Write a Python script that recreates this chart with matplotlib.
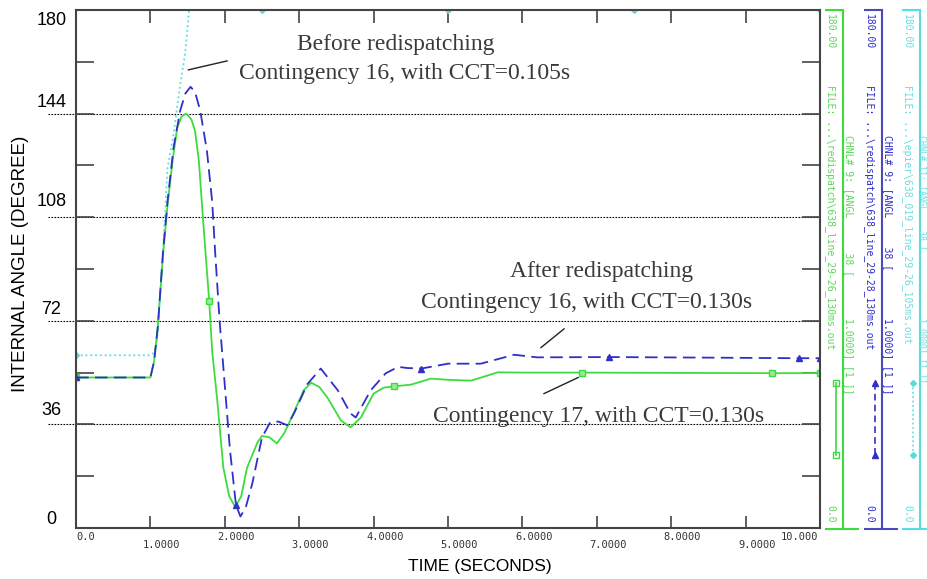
import numpy as np
import matplotlib.pyplot as plt
from matplotlib.lines import Line2D

# ---- data (time in s, angle in degrees) ----
t_green = [0, 0.5, 1.0, 1.05, 1.1, 1.17, 1.23, 1.30, 1.36, 1.42, 1.48, 1.55, 1.60, 1.65,
           1.70, 1.74, 1.79, 1.83, 1.90, 1.98, 2.06, 2.14, 2.22, 2.30, 2.44, 2.5, 2.6,
           2.7, 2.8, 2.88, 3.06, 3.16, 3.27, 3.38, 3.56, 3.69, 3.83, 4.0, 4.14, 4.27,
           4.5, 4.77, 5.0, 5.31, 5.67, 6.0, 6.8, 8.0, 9.35, 10.0]
green = [52.3, 52.3, 52.3, 58, 70, 95, 112, 128, 139, 143, 144, 142, 138, 128,
         110, 96, 79, 61.6, 44, 21, 11, 7.3, 11, 21, 29.8, 32, 31.5,
         29.4, 33, 37.4, 47.8, 50.5, 49, 45.3, 37.4, 35, 38.4, 46.7, 48.8, 49.2,
         49.8, 51.9, 51.5, 51.2, 54.1, 54.0, 54.0, 53.9, 53.8, 53.8]
green_marks = [0, 1.79, 4.27, 6.8, 9.35, 10.0]

t_blue = [0, 0.5, 1.0, 1.05, 1.1, 1.17, 1.23, 1.31, 1.40, 1.47, 1.54, 1.60, 1.67, 1.76,
          1.83, 1.87, 1.93, 1.98, 2.07, 2.15, 2.21, 2.28, 2.37, 2.5, 2.61, 2.72, 2.84,
          2.93, 3.11, 3.29, 3.52, 3.69, 3.76, 3.96, 4.16, 4.33, 4.45, 4.64, 5.0, 5.44,
          5.89, 6.2, 7.17, 8.5, 9.72, 10.0]
blue = [52.3, 52.3, 52.3, 58, 70, 96, 113.5, 132, 145, 151, 153.3, 151.5, 145, 131,
        113.5, 96, 72, 56, 27, 8, 4, 7, 15.5, 31.5, 36.7, 37, 35.7,
        39.8, 50, 55.4, 47.8, 39.8, 38.4, 47.8, 53.7, 56, 55.6, 55.4, 57.1, 57.1,
        60.2, 59.3, 59.4, 59.2, 59.0, 59.0]
blue_marks = [0, 2.15, 4.64, 7.17, 9.72, 10.0]

t_cyan = [0, 0.5, 1.0, 1.05, 1.09, 1.17, 1.23, 1.31, 1.40, 1.47, 1.52, 2.5, 5.0, 7.5, 10.0]
cyan = [60, 60, 60, 61, 65, 97, 125, 136.7, 154, 165.5, 180, 180, 180, 180, 180]
cyan_marks = [0, 2.5, 5.0, 7.5, 10.0]

ref_angles = [36, 72, 108, 144]
ylab_vals = [0, 36, 72, 108, 144, 180]
ylab_offs = [3, 5, 4, 5.5, 4, -3.5]
xtick_vals = np.arange(0, 11)
xtick_text = ['0.0', '1.0000', '2.0000', '3.0000', '4.0000', '5.0000',
              '6.0000', '7.0000', '8.0000', '9.0000', '10.000']

C_GREEN = '#3ddc3d'
C_BLUE = '#3030c8'
C_CYAN = '#55dede'
C_TXT = '#3a3a3a'
W, H = 927, 579


def fx(x):
    return x / W


def fy(y):
    return 1 - y / H


def idx(ts, marks):
    return [ts.index(m) for m in marks]


fig = plt.figure(figsize=(9.27, 5.79), dpi=100)
ax = fig.add_axes([fx(76), fy(528), fx(744), 518 / H])

ax.plot(t_cyan, cyan, color=C_CYAN, lw=1.3, ls=':', marker='D', ms=3,
        markevery=idx(t_cyan, cyan_marks), zorder=2)
ax.plot(t_green, green, color=C_GREEN, lw=1.3, marker='s', ms=4, mfc='#9be89b',
        markevery=idx(t_green, green_marks), zorder=3)
ax.plot(t_blue, blue, color=C_BLUE, lw=1.3, dashes=(7, 3.5), marker='^', ms=4,
        markevery=idx(t_blue, blue_marks), zorder=4)

ax.set_xlim(0, 10)
ax.set_ylim(0, 180)
for s in ax.spines.values():
    s.set_color('#444444')
    s.set_linewidth(1.5)
    s.set_zorder(5)

ax.set_xticks(xtick_vals)
ax.set_xticklabels([])
ax.set_yticks(np.arange(18, 180, 18))
ax.set_yticklabels([])
ax.tick_params(axis='x', direction='in', length=9, width=1.2, color='#444444',
               top=True, bottom=True)
ax.tick_params(axis='y', direction='in', length=13, width=1.2, color='#444444',
               left=True, right=True)

# staggered x labels
for v, s in zip(xtick_vals, xtick_text):
    low = v % 2 == 1
    if v == 10:
        xpos, ha = v - 0.03, 'right'
    elif v == 0:
        xpos, ha = 0.0, 'left'
    else:
        xpos, ha = v - 0.1, 'left'
    ax.text(xpos, -6.0 if low else -3.3, s, ha=ha, va='center', fontsize=7.5,
            family='DejaVu Sans Mono', color='#333333', clip_on=False)

# dotted reference lines and y labels
for a in ref_angles:
    ax.plot([-0.38, 10], [a, a], color='black', lw=0.8, ls=(0, (1.5, 1.2)),
            clip_on=False, zorder=1)
for v, o in zip(ylab_vals, ylab_offs):
    ax.text(-0.33, v + o, str(v), ha='center', va='center', fontsize=13,
            family='Liberation Sans', clip_on=False)

fig.text(fx(21), fy(264), 'INTERNAL ANGLE (DEGREE)', rotation=90, ha='center',
         va='center', fontsize=13.5, family='Liberation Sans')
fig.text(fx(480), fy(566), 'TIME (SECONDS)', ha='center', va='center',
         fontsize=12.5, family='Liberation Sans')

# annotations
tk = dict(ha='center', va='center', fontsize=17, family='Liberation Serif', color=C_TXT)
ax.text(4.30, 168, 'Before redispatching', **tk)
ax.text(4.42, 157.8, 'Contingency 16, with CCT=0.105s', **tk)
ax.text(7.06, 89.3, 'After redispatching', **tk)
ax.text(6.86, 78.2, 'Contingency 16, with CCT=0.130s', **tk)
ax.text(7.02, 38.8, 'Contingency 17, with CCT=0.130s', **tk)
ax.plot([1.51, 2.03], [159.2, 162.3], color='#222222', lw=1)
ax.plot([6.25, 6.56], [62.7, 69.2], color='#222222', lw=1)
ax.plot([6.29, 6.75], [46.7, 52.3], color='#222222', lw=1)

# right-hand channel strips
strips = [
    (843, C_GREEN, '#5ad85a', 'FILE: ...\\redispatch\\638_line_29-26_130ms.out',
     'CHNL# 9: [ANGL      38 [', dict(color=C_GREEN, marker='s', ms=4, mfc='none')),
    (882, '#4a4ab8', '#2a2ad0', 'FILE: ...\\redispatch\\638_line_29-28_130ms.out',
     'CHNL# 9: [ANGL     38 [', dict(color=C_BLUE, dashes=(4, 2.5), marker='^', ms=4)),
    (920, C_CYAN, '#66dddd', 'FILE: ...\\epier\\638_019_line_29-26_105ms.out',
     'CHNL# 11: [ANGL    38 [', dict(color=C_CYAN, ls=':', marker='D', ms=3)),
]
mono = dict(family='DejaVu Sans Mono', rotation=270)
for xl, lc, tc, fname, chnl, sty in strips:
    # rightmost strip is squeezed against the figure edge
    xr, fs_r = (xl + 6, 7) if xl < 900 else (xl + 2.5, 6)
    fig.add_artist(Line2D([fx(xl), fx(xl)], [fy(10), fy(529)], color=lc, lw=1.5))
    fig.add_artist(Line2D([fx(xl - 17), fx(xl)], [fy(10), fy(10)], color=lc, lw=1.5))
    fig.add_artist(Line2D([fx(xl - 17), fx(xl + 15)], [fy(529), fy(529)], color=lc, lw=1.5))
    fig.text(fx(xl - 13), fy(14), '180.00', ha='center', va='top', color=tc,
             fontsize=7, **mono)
    fig.text(fx(xl - 13), fy(85), fname, ha='center', va='top', color=tc,
             fontsize=7, **mono)
    fig.text(fx(xl - 13), fy(523), '0.0', ha='center', va='bottom', color=tc,
             fontsize=7, **mono)
    fig.text(fx(xr), fy(135), chnl, ha='center', va='top', color=tc,
             fontsize=fs_r, **mono)
    fig.text(fx(xr), fy(318), '1.0000] [1 ]]', ha='center', va='top', color=tc,
             fontsize=fs_r, **mono)
    fig.add_artist(Line2D([fx(xl - 7), fx(xl - 7)], [fy(383), fy(455)], lw=1.2,
                          markevery=[0, 1], **sty))

fig.savefig('out.png', dpi=100)
